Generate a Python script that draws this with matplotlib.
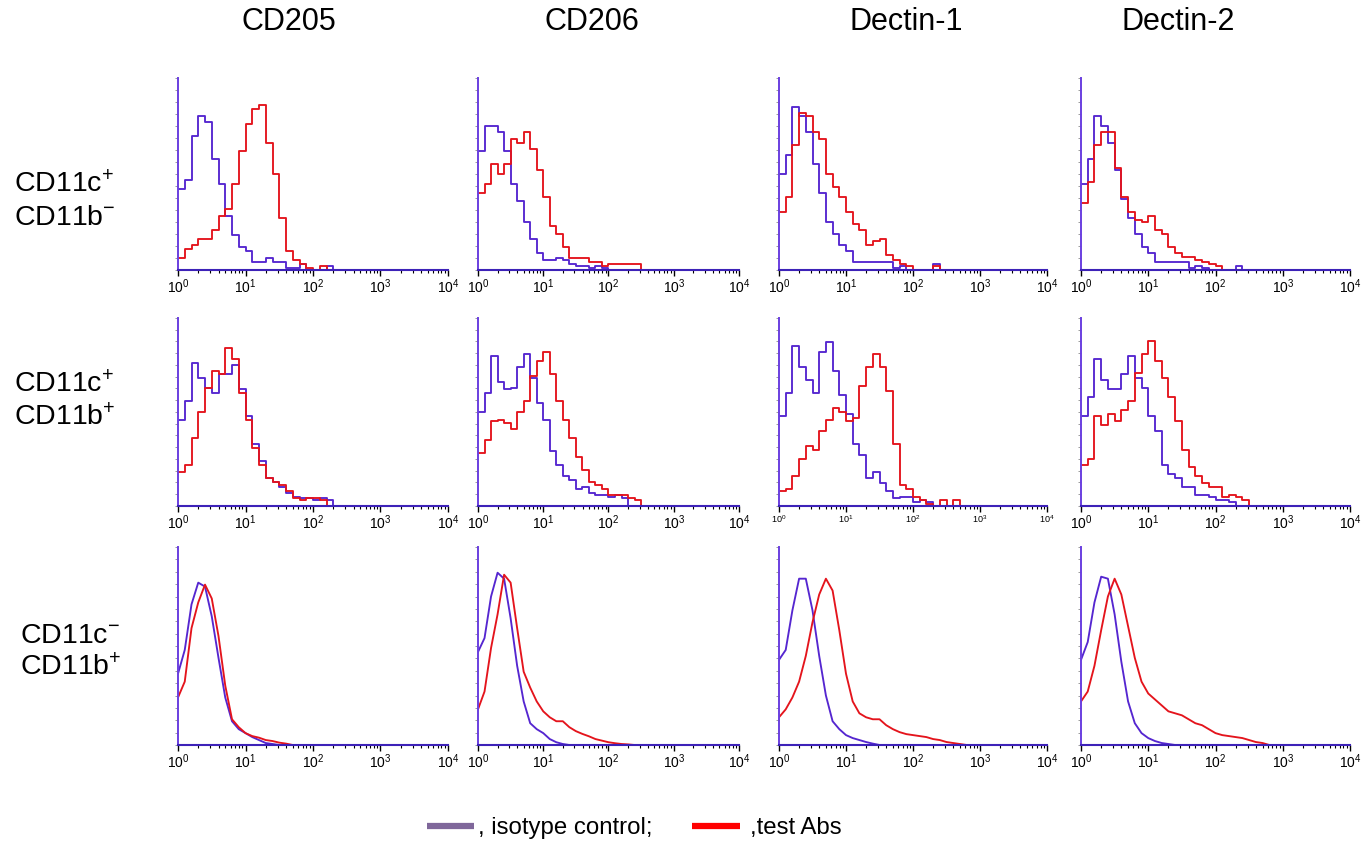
import numpy as np
from matplotlib import pyplot as plt
from matplotlib.lines import Line2D
from matplotlib.ticker import LogLocator, MultipleLocator, NullFormatter

plt.rcParams['font.family'] = ['Liberation Sans', 'DejaVu Sans']
plt.rcParams['mathtext.fontset'] = 'custom'
plt.rcParams['mathtext.rm'] = 'Liberation Sans'
plt.rcParams['mathtext.it'] = 'Liberation Sans:italic'
plt.rcParams['mathtext.bf'] = 'Liberation Sans:bold'

# 列标题 / 行标签
markers = ['CD205', 'CD206', 'Dectin-1', 'Dectin-2']
pop_line1 = ['CD11c$^{+}$', 'CD11c$^{+}$', 'CD11c$^{-}$']
pop_line2 = ['CD11b$^{-}$', 'CD11b$^{+}$', 'CD11b$^{+}$']

# 每个数值对应一个荧光通道位置 10^(0.1*i)，单位为相对高度 (%)
step_dec = 0.1

# 第一行 CD11c+ CD11b-
r1_cd205_iso = [42, 47, 70, 80, 77, 58, 45, 28, 18, 12, 10, 4, 4, 6, 4, 4, 1, 1, 3, 0, 0, 0, 2, 0]
r1_cd205_abs = [6, 11, 13, 16, 16, 21, 28, 32, 45, 62, 76, 84, 86, 66, 50, 27, 10, 5, 3, 1, 0, 2, 0]
r1_cd206_iso = [62, 75, 75, 72, 62, 45, 36, 25, 16, 9, 5, 5, 6, 5, 3, 2, 2, 1, 2, 1, 0]
r1_cd206_abs = [40, 45, 55, 50, 55, 68, 66, 72, 63, 52, 38, 23, 19, 12, 6, 6, 6, 4, 4, 2, 3, 3, 3, 3, 3, 0]
r1_dec1_iso = [50, 60, 85, 80, 72, 55, 40, 25, 19, 13, 10, 4, 4, 4, 4, 4, 4, 1, 2, 0, 0, 0, 0, 3, 0]
r1_dec1_abs = [30, 38, 65, 82, 80, 72, 68, 50, 43, 38, 30, 24, 21, 13, 15, 16, 8, 5, 3, 2, 0, 0, 0, 2, 0]
r1_dec2_iso = [45, 58, 80, 75, 66, 52, 37, 27, 19, 12, 9, 4, 4, 4, 4, 4, 1, 2, 1, 0, 0, 0, 0, 2, 0]
r1_dec2_abs = [35, 46, 65, 72, 72, 53, 38, 30, 26, 25, 28, 21, 19, 12, 9, 7, 7, 5, 4, 3, 2, 0]

# 第二行 CD11c+ CD11b+
r2_cd205_iso = [46, 56, 76, 68, 63, 60, 70, 70, 75, 62, 48, 33, 24, 15, 13, 10, 7, 5, 4, 4, 3, 4, 3, 0]
r2_cd205_abs = [18, 22, 36, 50, 63, 72, 70, 84, 78, 60, 46, 31, 22, 15, 13, 11, 8, 4, 3, 4, 4, 3, 0]
r2_cd206_iso = [50, 60, 80, 66, 62, 63, 74, 81, 68, 55, 46, 29, 22, 16, 14, 9, 10, 7, 6, 6, 5, 6, 4, 0]
r2_cd206_abs = [28, 35, 45, 46, 44, 41, 50, 56, 69, 77, 82, 70, 56, 46, 36, 26, 19, 13, 11, 9, 6, 6, 6, 4, 3, 0]
r2_dec1_iso = [48, 60, 85, 74, 67, 60, 82, 87, 72, 59, 49, 33, 27, 15, 18, 12, 8, 4, 5, 5, 2, 3, 2, 0]
r2_dec1_abs = [8, 9, 16, 25, 32, 30, 40, 46, 52, 50, 45, 47, 64, 74, 81, 74, 61, 33, 11, 9, 5, 3, 1, 0, 3, 0, 3, 0]
r2_dec2_iso = [48, 58, 78, 67, 62, 62, 70, 80, 68, 63, 48, 40, 22, 17, 15, 10, 10, 6, 6, 5, 3, 3, 2, 0]
r2_dec2_abs = [22, 25, 48, 43, 49, 45, 51, 56, 71, 81, 88, 77, 68, 58, 45, 30, 21, 16, 12, 10, 10, 5, 6, 5, 3, 0]

# 第三行 CD11c- CD11b+ (平滑曲线)
r3_cd205_iso = [36, 48, 71, 82, 80, 65, 44, 24, 12, 8, 6, 4, 2.5, 1, 0.5, 0]
r3_cd205_abs = [24, 32, 59, 72, 81, 74, 55, 30, 13, 9, 6, 4.5, 3.7, 2.5, 2, 1.2, 0.7, 0]
r3_cd206_iso = [47, 54, 75, 87, 84, 64, 40, 22, 11, 8, 6, 3, 1.4, 0.5, 0]
r3_cd206_abs = [18, 27, 49, 66, 86, 82, 59, 37, 29, 22, 17, 14, 12, 12, 9, 7, 5.6, 4.4, 3, 2.2, 1.4, 0.9, 0.5, 0.3, 0]
r3_dec1_iso = [43, 48, 68, 84, 84, 68, 45, 25, 12, 8, 5, 3.5, 2.5, 1.5, 0.7, 0]
r3_dec1_abs = [14, 18, 24, 32, 45, 62, 76, 84, 78, 58, 36, 22, 16, 14, 13, 13, 10, 8, 6.5, 5.5, 5, 4.5, 4, 3, 2.5, 1.5, 1, 0.5, 0]
r3_dec2_iso = [43, 52, 72, 85, 84, 66, 42, 22, 11, 6, 3.5, 2, 1, 0.5, 0]
r3_dec2_abs = [22, 27, 40, 58, 75, 84, 76, 60, 44, 32, 26, 23, 20, 17, 16, 15, 13, 11, 10, 8, 6, 5, 4.5, 4, 3.5, 2.5, 1.5, 1, 0]

iso = [[r1_cd205_iso, r1_cd206_iso, r1_dec1_iso, r1_dec2_iso],
       [r2_cd205_iso, r2_cd206_iso, r2_dec1_iso, r2_dec2_iso],
       [r3_cd205_iso, r3_cd206_iso, r3_dec1_iso, r3_dec2_iso]]
abs_ = [[r1_cd205_abs, r1_cd206_abs, r1_dec1_abs, r1_dec2_abs],
        [r2_cd205_abs, r2_cd206_abs, r2_dec1_abs, r2_dec2_abs],
        [r3_cd205_abs, r3_cd206_abs, r3_dec1_abs, r3_dec2_abs]]

iso_color = '#5526d0'
abs_color = '#e4141c'

W, H = 1361, 843
fig = plt.figure(figsize=(W / 100, H / 100), dpi=100)

# 各面板像素位置
col_left = [178, 478, 779, 1081]
col_right = [448, 739, 1047, 1350]
row_top = [78, 318, 547]
row_bottom = [270, 506, 745]

for r in range(3):
    for c in range(4):
        ax = fig.add_axes([col_left[c] / W, 1 - row_bottom[r] / H,
                           (col_right[c] - col_left[c]) / W,
                           (row_bottom[r] - row_top[r]) / H])
        for vals, color in [(iso[r][c], iso_color), (abs_[r][c], abs_color)]:
            x = 10 ** (np.arange(len(vals)) * step_dec)
            if r < 2:
                ax.step(x, vals, where='post', color=color, lw=1.35)
            else:
                ax.plot(x, vals, color=color, lw=1.35)
        ax.set_xscale('log')
        ax.set_xlim(1, 1e4)
        ax.set_ylim(0, 100)
        ax.spines['top'].set_visible(False)
        ax.spines['right'].set_visible(False)
        ax.spines['left'].set_color('#6a3fe0')
        ax.spines['left'].set_linewidth(1.4)
        ax.spines['bottom'].set_color('#3d22b8')
        ax.spines['bottom'].set_linewidth(1.5)
        ax.xaxis.set_major_locator(LogLocator(base=10, numticks=10))
        ax.xaxis.set_minor_locator(LogLocator(base=10, subs=np.arange(2, 10), numticks=10))
        ax.xaxis.set_minor_formatter(NullFormatter())
        lab_size = 6.5 if (r == 1 and c == 2) else 10
        ax.tick_params(axis='x', which='major', length=4, width=1, color='black',
                       labelsize=lab_size, pad=1.5)
        ax.tick_params(axis='x', which='minor', length=2.5, width=0.8, color='black')
        ax.yaxis.set_major_locator(MultipleLocator(6.25))
        ax.tick_params(axis='y', which='major', length=2, width=0.6, color='0.55',
                       labelleft=False)

# 列标题
title_x = [289, 592, 906, 1178]
for name, tx in zip(markers, title_x):
    fig.text(tx / W, 1 - 22 / H, name, ha='center', va='center', fontsize=22)

# 行标签
label_x = [14, 14, 20]
line1_y = [185, 385, 636]
line2_y = [218, 418, 668]
for r in range(3):
    fig.text(label_x[r] / W, 1 - line1_y[r] / H, pop_line1[r], ha='left', va='center', fontsize=20.5)
    fig.text(label_x[r] / W, 1 - line2_y[r] / H, pop_line2[r], ha='left', va='center', fontsize=20.5)

# 图例
ly = 1 - 826 / H
fig.add_artist(Line2D([427 / W, 474 / W], [ly, ly], transform=fig.transFigure,
                      color='#7f679a', lw=4.5, solid_capstyle='butt'))
fig.text(478 / W, 1 - 828 / H, ', isotype control;', ha='left', va='center', fontsize=17.3)
fig.add_artist(Line2D([692 / W, 740 / W], [ly, ly], transform=fig.transFigure,
                      color='#ff0000', lw=4.5, solid_capstyle='butt'))
fig.text(750 / W, 1 - 828 / H, ',test Abs', ha='left', va='center', fontsize=17.3)

fig.savefig('out.png', dpi=100)
